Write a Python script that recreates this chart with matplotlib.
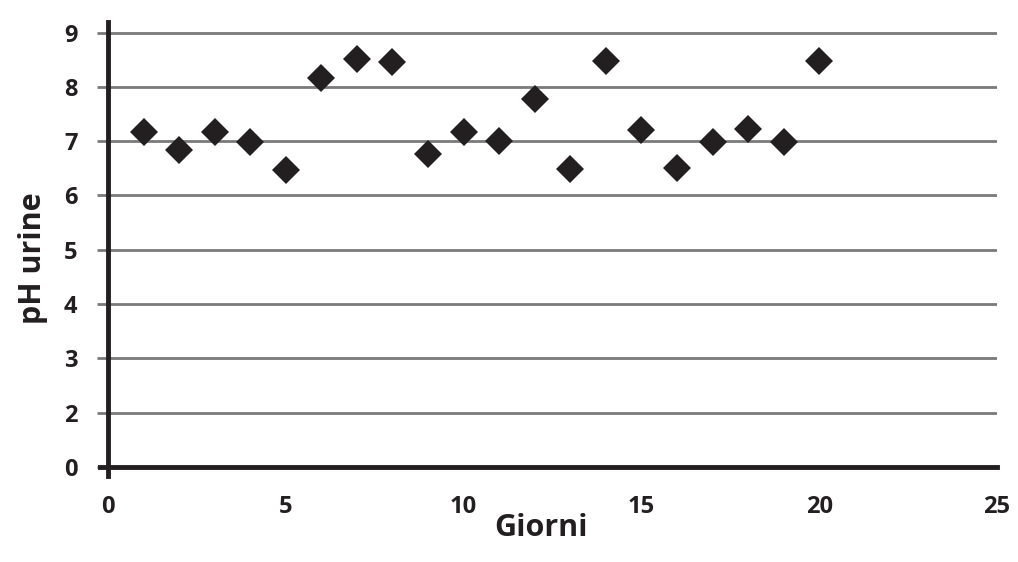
import matplotlib
matplotlib.use("Agg")
import matplotlib.pyplot as plt

giorni = list(range(1, 21))
ph = [7.17, 6.83, 7.17, 6.98, 6.47, 8.17, 8.51, 8.46, 6.77, 7.17,
      7.01, 7.77, 6.49, 8.48, 7.21, 6.50, 6.98, 7.22, 6.98, 8.48]
xticks = [0, 5, 10, 15, 20, 25]
yticks = [1, 2, 3, 4, 5, 6, 7, 8, 9]
ytick_labels = ["0", "2", "3", "4", "5", "6", "7", "8", "9"]

dark = "#231f20"
plt.rcParams['font.family'] = ['Open Sans', 'DejaVu Sans']
plt.rcParams['font.weight'] = 'bold'

fig = plt.figure(figsize=(10.18, 5.62), dpi=100)
ax = fig.add_axes([108/1018, 1-467/562, (997-108)/1018, (467-21.7)/562])

ax.set_xlim(0, 25)
ax.set_ylim(1, 9.2)
ax.set_yticks(yticks)
ax.set_yticklabels(ytick_labels)
ax.set_xticks(xticks)
ax.set_xticklabels([str(t) for t in xticks])

ax.grid(axis='y', color='#7a7a7a', linewidth=2.0)
ax.set_axisbelow(True)

ax.plot(giorni, ph, linestyle='none', marker='D', markersize=14.5,
        color=dark, markeredgewidth=0, zorder=3)

for s in ['top', 'right']:
    ax.spines[s].set_visible(False)
for s in ['left', 'bottom']:
    ax.spines[s].set_color(dark)
    ax.spines[s].set_linewidth(3.5)
    ax.spines[s].set_zorder(4)
ax.spines['left'].set_bounds(0.83, 9.2)
ax.spines['bottom'].set_bounds(-0.22, 25)

ax.tick_params(axis='y', length=8, width=2, color='#7a7a7a', labelsize=17,
               labelcolor=dark, pad=14)
ax.tick_params(axis='x', length=0, labelsize=17, labelcolor=dark, pad=20)
for lab in ax.get_xticklabels() + ax.get_yticklabels():
    lab.set_fontweight('bold')

ax.set_xlabel("Giorni", fontsize=22, fontweight='bold', color=dark)
ax.set_ylabel("pH urine", fontsize=22, fontweight='bold', color=dark)
ax.xaxis.set_label_coords((541-108)/889, -(528-467)/445.3)
ax.yaxis.set_label_coords(-(108-33)/889, (467-258)/445.3)
ax.xaxis.label.set_verticalalignment('center')
ax.yaxis.label.set_verticalalignment('center')

fig.savefig("out.png", dpi=100)
